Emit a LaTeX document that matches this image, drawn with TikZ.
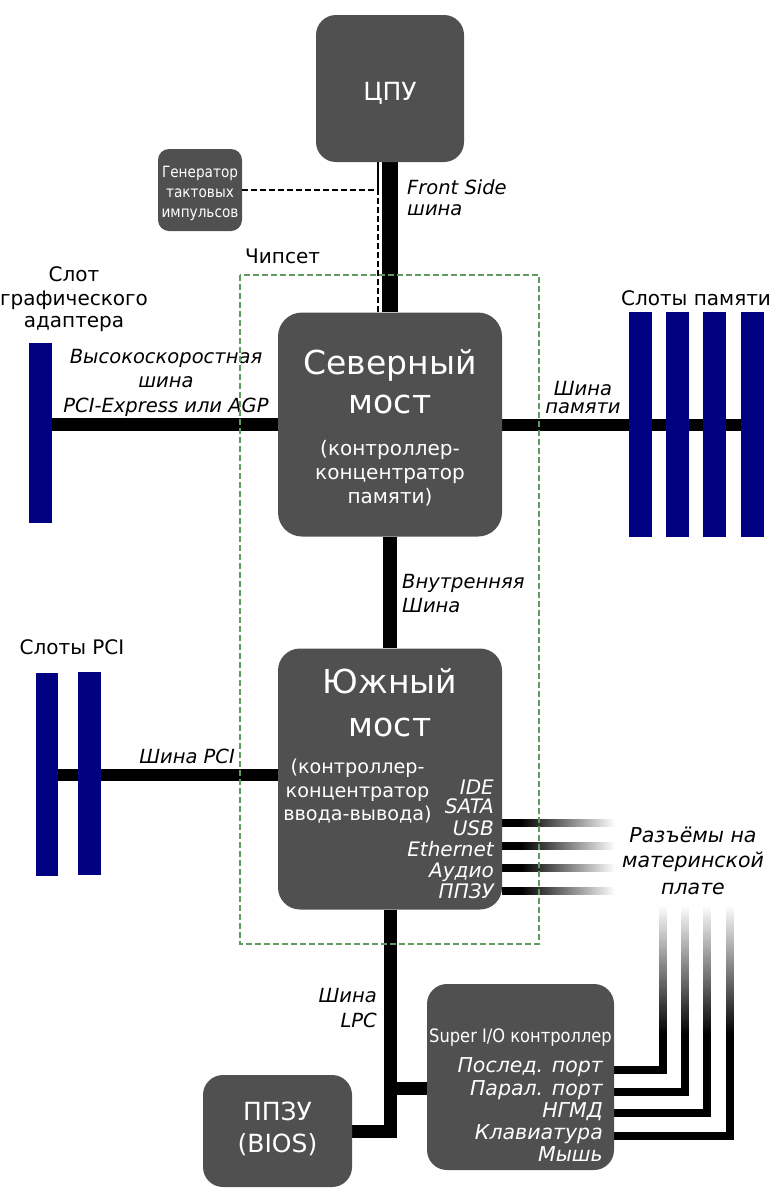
\documentclass[tikz,border=0pt]{standalone}
\usepackage{fontspec}
\setmainfont{DejaVu Sans}
\newfontfamily\condfont{DejaVu Sans}[FakeStretch=0.88]
\usetikzlibrary{backgrounds}
\definecolor{boxgray}{RGB}{80,80,80}
\definecolor{slotblue}{RGB}{0,0,128}
\definecolor{chipgreen}{RGB}{95,155,95}

\begin{document}
\begin{tikzpicture}[x=1pt, y=-1pt,
  box/.style={fill=boxgray, rounded corners=20pt, inner sep=0pt},
  slot/.style={fill=slotblue, inner sep=0pt},
  big/.style={text=white, inner sep=0pt, anchor=base, font=\fontsize{33}{36}\selectfont},
  small/.style={text=white, inner sep=0pt, anchor=base, font=\fontsize{20}{24}\selectfont},
  cond/.style={text=white, inner sep=0pt, anchor=base, font=\condfont\fontsize{15.5}{18}\selectfont},
  port/.style={text=white, inner sep=0pt, anchor=base east, font=\itshape\fontsize{20}{22}\selectfont},
  lbl/.style={inner sep=0pt, anchor=base, font=\fontsize{20}{24}\selectfont},
  buslbl/.style={inner sep=0pt, anchor=base, font=\itshape\fontsize{19.5}{22}\selectfont},
  vbus/.style={line width=15pt},
  hbus/.style={line width=12pt},
  portline/.style={line width=7.5pt},
  clkline/.style={line width=2pt, dash pattern=on 6pt off 3pt},
  chipset/.style={chipgreen, line width=1.5pt, dash pattern=on 6pt off 3pt}]
\useasboundingbox (0,0) rectangle (780,1200);

% boxes
\node[box, minimum width=148pt, minimum height=147pt] (cpu) at (390,88.5) {};
\node[box, rounded corners=11pt, minimum width=84pt, minimum height=82pt] (clk) at (200,190) {};
\node[box, rounded corners=24pt, minimum width=224pt, minimum height=224pt] (nb) at (390,424.5) {};
\node[box, rounded corners=22pt, minimum width=224pt, minimum height=261pt] (sb) at (390,779) {};
\node[box, minimum width=149pt, minimum height=112pt] (bios) at (277.5,1131) {};
\node[box, minimum width=187pt, minimum height=186pt] (sio) at (520.5,1077) {};

% slots
\node[slot, minimum width=23pt, minimum height=180pt] (gfx) at (40.5,433) {};
\foreach \x [count=\i] in {640.5,677.5,714.5,752.5}
  \node[slot, minimum width=23pt, minimum height=225pt] (mem\i) at (\x,424.5) {};
\node[slot, minimum width=22pt, minimum height=203pt] (pci1) at (47,774.5) {};
\node[slot, minimum width=23pt, minimum height=203pt] (pci2) at (89.5,773.5) {};

% texts in boxes
\node[text=white, inner sep=0pt, anchor=base, font=\fontsize{25}{30}\selectfont] (cput) at (390,100) {ЦПУ};
\foreach \t/\y [count=\i] in {Генератор/177, тактовых/197, импульсов/217}
  \node[cond] (clkt\i) at (200,\y) {\t};
\node[big] (nbt1) at (390,374) {Северный};
\node[big] (nbt2) at (390,413) {мост};
\foreach \t/\y [count=\i] in {{(контроллер-}/455, концентратор/479, {памяти)}/503}
  \node[small] (nbs\i) at (390,\y) {\t};
\node[big] (sbt1) at (390,693) {Южный};
\node[big] (sbt2) at (390,736) {мост};
\foreach \t/\y [count=\i] in {{(контроллер-}/773, концентратор/797, {ввода-вывода)}/820}
  \node[small, font=\fontsize{19.2}{24}\selectfont] (sbs\i) at (357.5,\y) {\t};
\foreach \t/\y [count=\i] in {IDE/794, SATA/813, USB/835, Ethernet/856, Аудио/877, ППЗУ/898}
  \node[port] (sbp\i) at (494,\y) {\t};
\node[text=white, inner sep=0pt, anchor=base, font=\fontsize{25}{30}\selectfont] (biost1) at (277.5,1120) {ППЗУ};
\node[text=white, inner sep=0pt, anchor=base, font=\fontsize{25}{30}\selectfont] (biost2) at (277.5,1152) {(BIOS)};
\node[cond, font=\condfont\fontsize{18.5}{22}\selectfont] (siot) at (520.5,1042) {Super I/O контроллер};
\foreach \t/\y [count=\i] in {Послед. порт/1072, Парал. порт/1095, НГМД/1117, Клавиатура/1139, Мышь/1161}
  \node[port, font=\itshape\fontsize{20.5}{22}\selectfont] (siop\i) at (603,\y) {\t};

% labels
\node[lbl, anchor=base west] (chip) at (245,263) {Чипсет};
\foreach \t/\y [count=\i] in {Слот/281, графического/305, адаптера/327}
  \node[lbl] (gfxl\i) at (74,\y) {\t};
\node[lbl] (meml) at (696,305) {Слоты памяти};
\node[lbl] (pcil) at (72,654) {Слоты PCI};
\foreach \t/\y [count=\i] in {Разъёмы на/842, материнской/867, плате/894}
  \node[buslbl, font=\itshape\fontsize{20.5}{24}\selectfont] (conl\i) at (693,\y) {\t};
\node[buslbl, anchor=base west] (fsb1) at (407,194) {Front Side};
\node[buslbl, anchor=base west] (fsb2) at (407,215) {шина};
\foreach \t/\y [count=\i] in {Высокоскоростная/363, шина/387, PCI-Express или AGP/412}
  \node[buslbl] (agpl\i) at (166,\y) {\t};
\node[buslbl] (mbl1) at (583,395) {Шина};
\node[buslbl] (mbl2) at (583,413) {памяти};
\node[buslbl, anchor=base west] (ibl1) at (402,588) {Внутренняя};
\node[buslbl, anchor=base west] (ibl2) at (402,612) {Шина};
\node[buslbl, anchor=base east] (pcibl) at (235,763) {Шина PCI};
\node[buslbl, anchor=base east] (lpcl1) at (377,1002) {Шина};
\node[buslbl, anchor=base east] (lpcl2) at (377,1027) {LPC};

% buses
\begin{pgfonlayer}{background}
\draw[vbus, line width=16pt] (cpu.south) -- (nb.north);
\draw[white, line width=5pt] ([xshift=-12pt]cpu.south) -- ([xshift=-12pt]nb.north);
\draw[clkline] (clk.east) -| ([xshift=-12pt]cpu.south);
\draw[clkline] ([xshift=-12pt]cpu.south) -- ([xshift=-12pt]nb.north);
\draw[hbus, line width=13pt] (nb.west) -- (nb.west -| gfx.east);
\draw[hbus] (nb.east) -- (nb.east -| mem4.west);
\draw[vbus, line width=14pt] (nb.south) -- (sb.north);
\draw[hbus] (sb.west |- 0,775) -- (pci1.center |- 0,775);
\draw[vbus, line width=13pt] (sb.south) |- (bios.east);
\draw[vbus, line width=13pt] (sio.west |- 0,1088) -- (sb.south |- 0,1088);
\foreach \y in {823,846,868,891} {
  \draw[portline] (sb.east |- 0,\y) -- (522,\y);
  \shade[left color=black, right color=white] (521,\y-3.75) rectangle (615,\y+3.75);
}
\foreach \y/\x in {1070/663, 1092/685, 1113/707, 1136/730} {
  \draw[portline] (sio.east |- 0,\y) -| (\x,1033);
  \shade[top color=white, bottom color=black] (\x-3.75,905) rectangle (\x+3.75,1034);
}
\end{pgfonlayer}

\draw[chipset] (240,275) rectangle (539,944);
\end{tikzpicture}
\end{document}
